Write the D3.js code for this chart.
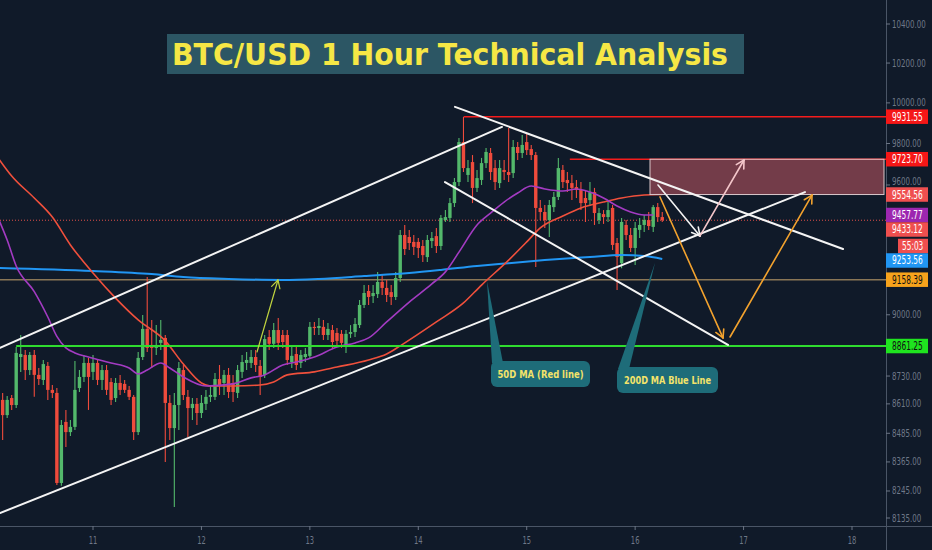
<!DOCTYPE html>
<html><head><meta charset="utf-8">
<script src="https://cdn.jsdelivr.net/npm/d3@7"></script>
<style>body{margin:0;background:#101a29;}svg{display:block}</style>
</head><body><svg id="c" width="932" height="550"></svg>
<script>
// ---------------- DATA ----------------
const startDay = 10, startHour = 4; // first hourly candle: day 10, 04:00
const opens  = [8627,8562,8635,8605,8813,8822,8756,8822,8735,8713,8774,8670,8657,8278,8533,8490,8512,8678,8726,8787,8748,8787,8713,8756,8704,8635,8700,8696,8670,8640,8490,8813,8937,8866,8853,8875,8897,8614,8507,8605,8756,8640,8592,8610,8571,8610,8640,8640,8717,8700,8735,8700,8657,8748,8787,8787,8813,8774,8735,8901,8871,8932,8910,8910,8791,8826,8787,8813,8818,8946,8941,8946,8910,8932,8919,8915,8866,8915,8923,8954,9044,9107,9084,9093,9148,9121,9102,9080,9166,9364,9355,9332,9332,9313,9262,9336,9359,9313,9434,9444,9514,9614,9807,9648,9710,9586,9624,9705,9754,9681,9609,9672,9662,9657,9783,9754,9807,9773,9744,9491,9472,9434,9495,9543,9672,9624,9609,9590,9576,9538,9528,9566,9434,9462,9448,9491,9327,9234,9411,9364,9304,9388,9411,9434,9402,9495,9448];
const highs  = [8657,8644,8648,8857,8910,8844,8835,8844,8765,8800,8791,8691,8678,8541,8584,8541,8796,8756,8822,8809,8822,8800,8778,8778,8722,8722,8735,8713,8687,8648,8835,8999,9171,8977,8954,8977,8910,8648,8657,8791,8778,8670,8635,8635,8648,8670,8691,8743,8778,8756,8765,8735,8778,8822,8835,8844,8844,8800,8910,8932,8963,8986,8932,8932,8866,8866,8844,8853,8968,8968,8986,8977,8963,8954,8941,8932,8932,8954,8986,9066,9134,9134,9134,9194,9180,9157,9134,9194,9388,9411,9388,9364,9350,9341,9364,9378,9397,9458,9481,9538,9633,9827,9931.55,9720,9744,9672,9730,9778,9778,9720,9720,9720,9876,9817,9807,9842,9851,9793,9759,9528,9505,9528,9566,9730,9696,9662,9648,9624,9614,9576,9614,9586,9491,9481,9528,9505,9350,9444,9434,9397,9425,9444,9458,9472,9505,9514,9472];
const lows   = [8457,8550,8584,8592,8748,8713,8735,8640,8691,8691,8627,8635,8270,8266,8427,8474,8499,8661,8704,8584,8713,8691,8670,8648,8605,8618,8648,8657,8627,8457,8478,8800,8835,8765,8822,8844,8365,8457,8180,8499,8627,8469,8541,8520,8550,8584,8618,8627,8648,8648,8635,8618,8635,8722,8756,8765,8748,8648,8722,8844,8853,8844,8853,8778,8765,8756,8765,8791,8809,8910,8910,8888,8888,8853,8862,8853,8831,8897,8901,8941,9030,9044,9053,9075,9089,9057,9044,9066,9148,9271,9295,9271,9258,9239,9239,9304,9281,9295,9425,9425,9495,9595,9662,9614,9514,9566,9600,9681,9624,9576,9586,9624,9614,9633,9720,9730,9744,9720,9216,9434,9397,9355,9472,9528,9586,9566,9528,9538,9481,9425,9500,9411,9416,9416,9425,9295,9112,9211,9341,9285,9225,9350,9378,9388,9378,9425,9425];
const closes = [8562,8627,8605,8831,8826,8756,8822,8735,8717,8782,8670,8657,8278,8520,8490,8512,8670,8726,8787,8726,8787,8713,8756,8670,8627,8700,8670,8670,8640,8490,8809,8937,8853,8853,8866,8888,8614,8507,8605,8765,8648,8592,8610,8571,8614,8640,8648,8717,8687,8735,8661,8661,8756,8791,8800,8813,8778,8726,8892,8871,8932,8875,8879,8800,8818,8778,8822,8826,8946,8941,8950,8910,8937,8879,8884,8875,8915,8923,8959,9044,9098,9080,9098,9148,9121,9089,9080,9166,9364,9299,9327,9309,9304,9271,9341,9350,9313,9444,9448,9514,9614,9807,9681,9681,9586,9633,9705,9759,9662,9614,9681,9662,9648,9783,9754,9793,9768,9744,9491,9472,9434,9505,9543,9681,9614,9609,9586,9576,9514,9514,9566,9467,9467,9448,9481,9318,9262,9425,9364,9304,9397,9411,9434,9406,9495,9448,9433.12];

// moving averages: [candle index, price]
const ma20  = [[-1,9444],[1,9341],[3,9221],[7,9104],[10,8990],[12,8904],[14,8853],[16,8831],[19,8813],[24,8787],[28,8765],[30,8739],[32,8756],[35,8787],[37,8765],[40,8726],[45,8687],[51,8696],[55,8722],[58,8735],[62,8778],[65,8791],[69,8813],[74,8857],[78,8875],[81,8897],[85,8968],[90,9057],[95,9139],[98,9194],[101,9285],[105,9411],[108,9467],[111,9519],[114,9562],[117,9595],[120,9581],[124,9571],[127,9581],[130,9566],[133,9538],[136,9500],[139,9472],[142,9458],[144,9457.77]];
const ma50  = [[-1,9730],[2,9643],[7,9538],[11,9448],[15,9318],[20,9189],[25,9075],[30,8977],[36,8884],[40,8782],[44,8700],[46,8687],[51,8687],[57,8691],[60,8704],[63,8735],[69,8748],[74,8769],[81,8800],[85,8826],[88,8862],[96,8968],[102,9053],[106,9134],[112,9248],[116,9332],[119,9397],[124,9453],[128,9491],[133,9519],[137,9538],[142,9552],[146,9554.56]];
const ma200 = [[-1,9212],[20,9198],[33,9184],[40,9171],[50,9162],[62,9157],[70,9162],[80,9175],[90,9189],[97,9203],[105,9221],[112,9234],[120,9248],[130,9262],[137,9271],[142,9267],[146,9253.56]];

const yTicks = [10400,10200,10000,9800,9600,9000,8730,8610,8485,8365,8245,8135];
const xTicks = [11,12,13,14,15,16,17,18];
const lastPrice = 9433.12, countdown = '55:03';
const supportLevel = 8861.25, midLevel = 9158.39;
const resistHigh = {from:14.4216, v:9931.55};
const resistLow  = {from:15.3977, v:9723.70};
const zone = {x0:16.137, x1:18.295, top:9723.70, bottom:9554.56};
const channelUpper = [[10.1423,8853],[14.772,9881]];
const channelLower = [[10.1423,8155],[17.566,9566]];
const descUpper = [[14.3385,9980],[17.9169,9299]];
const descLower = [[14.2464,9614],[16.8562,8866]];
const arrows = [
  {p:[[12.5125,8835],[12.706,9157]], c:'#bfd33f', w:1.2},
  {p:[[16.2109,9600],[16.598,9360]], c:'#f2f2f2', w:1.6},
  {p:[[16.598,9360],[17.0039,9720]], c:'#f3c6ca', w:1.6},
  {p:[[16.2292,9543],[16.8104,8897]], c:'#f2a22e', w:1.6},
  {p:[[16.8749,8901],[17.631,9552]], c:'#f2a22e', w:1.6}
];
const callouts = [
  {text:'50D MA (Red line)', tip:[14.6337,9152], box:[491,361,99,26], tw:86},
  {text:'200D MA Blue Line', tip:[16.1829,9235], box:[617,367,101,26], tw:87}
];
const tags = [
  {v:9931.55, bg:'#f51717', fg:'#fff'},
  {v:9723.70, bg:'#f51717', fg:'#fff'},
  {v:9554.56, bg:'#ef4f4f', fg:'#fff'},
  {v:9457.77, bg:'#9c27b0', fg:'#fff'},
  {v:9433.12, bg:'#ef4f4f', fg:'#fff'},
  {label:countdown, bg:'#ef4f4f', fg:'#fff', cd:true},
  {v:9253.56, bg:'#2196f3', fg:'#fff'},
  {v:9158.39, bg:'#f7a31c', fg:'#111'},
  {v:8861.25, bg:'#1fe41f', fg:'#111'}
];
const titleText = 'BTC/USD 1 Hour Technical Analysis';

// ---------------- CHART ----------------
const W = 932, H = 550, PR = 886, PB = 526;
const BG = '#101a29', UP = '#53b86b', DN = '#ef4b3c';
const AXF = "'DejaVu Sans Condensed','DejaVu Sans',sans-serif";
const x = d3.scaleLinear().domain([10.1423, 18.3135]).range([0, PR]);
const y = d3.scaleLog().domain([8135, 10400]).range([518, 24]);
const dayOf = i => startDay + (startHour + i) / 24;
const numW = (s, dw, pw) => s.split('').reduce((a, ch) => a + (ch === '.' || ch === ':' ? pw : dw), 0);

const svg = d3.select('#c');
svg.append('rect').attr('width', W).attr('height', H).attr('fill', BG);
svg.append('defs').append('clipPath').attr('id', 'plot')
  .append('rect').attr('x', 0).attr('y', 0).attr('width', PR).attr('height', PB);
const g = svg.append('g').attr('clip-path', 'url(#plot)');

// narrow text: horizontally squeezed to a target width via transform
function narrowText(parent, s, tx, ty, size, fill, target, anchor) {
  const gg = parent.append('g');
  const t = gg.append('text').attr('x', 0).attr('y', 0).attr('fill', fill)
    .attr('font-family', AXF).attr('font-size', size).text(s);
  const nat = t.node().getComputedTextLength() || target;
  const sx = target / nat;
  const left = anchor === 'middle' ? tx - target / 2 : tx;
  gg.attr('transform', `translate(${left},${ty}) scale(${sx},1)`);
  return gg;
}

// level lines
g.append('line').attr('x1', 0).attr('x2', PR).attr('y1', y(midLevel)).attr('y2', y(midLevel))
  .attr('stroke', '#8a7656').attr('stroke-width', 1.6);
g.append('line').attr('x1', 0).attr('x2', PR).attr('y1', y(lastPrice)).attr('y2', y(lastPrice))
  .attr('stroke', '#e0504a').attr('stroke-width', 1).attr('stroke-dasharray', '1,2');

// candles
const candles = opens.map((o, i) => ({t: dayOf(i), o, h: highs[i], l: lows[i], c: closes[i]}));
const bw = 3.4;
g.append('g').selectAll('line').data(candles).join('line')
  .attr('x1', d => x(d.t)).attr('x2', d => x(d.t))
  .attr('y1', d => y(d.h)).attr('y2', d => y(d.l))
  .attr('stroke', d => d.c >= d.o ? UP : DN).attr('stroke-width', 1.1);
g.append('g').selectAll('rect').data(candles).join('rect')
  .attr('x', d => x(d.t) - bw / 2).attr('width', bw)
  .attr('y', d => y(Math.max(d.o, d.c)))
  .attr('height', d => Math.max(1.2, Math.abs(y(d.o) - y(d.c))))
  .attr('fill', d => d.c >= d.o ? UP : DN);

// moving averages
const maLine = d3.line().x(d => x(dayOf(d[0]))).y(d => y(d[1])).curve(d3.curveMonotoneX);
g.append('path').attr('d', maLine(ma200)).attr('fill', 'none').attr('stroke', '#2196f3').attr('stroke-width', 2);
g.append('path').attr('d', maLine(ma50)).attr('fill', 'none').attr('stroke', '#f0503c').attr('stroke-width', 1.6);
g.append('path').attr('d', maLine(ma20)).attr('fill', 'none').attr('stroke', '#a33bc2').attr('stroke-width', 1.6);

// support line
g.append('line').attr('x1', x(dayOf(3))).attr('x2', PR).attr('y1', y(supportLevel)).attr('y2', y(supportLevel))
  .attr('stroke', '#2fdc2f').attr('stroke-width', 2);

// resistance lines
[resistHigh, resistLow].forEach(r => {
  g.append('line').attr('x1', x(r.from)).attr('x2', PR).attr('y1', y(r.v)).attr('y2', y(r.v))
    .attr('stroke', '#f51c1c').attr('stroke-width', 1.6);
});

// zone
g.append('rect').attr('x', x(zone.x0)).attr('y', y(zone.top))
  .attr('width', x(zone.x1) - x(zone.x0)).attr('height', y(zone.bottom) - y(zone.top))
  .attr('fill', 'rgba(196,90,100,0.55)').attr('stroke', '#d9c6ca').attr('stroke-width', 1);

// trend lines
const seg = (p, c, w) => g.append('line')
  .attr('x1', x(p[0][0])).attr('y1', y(p[0][1])).attr('x2', x(p[1][0])).attr('y2', y(p[1][1]))
  .attr('stroke', c).attr('stroke-width', w).attr('stroke-linecap', 'round');
[channelUpper, channelLower, descUpper, descLower].forEach(p => seg(p, '#f4f4f4', 2));

// arrows
arrows.forEach(a => {
  seg(a.p, a.c, a.w);
  const x1 = x(a.p[0][0]), y1 = y(a.p[0][1]), x2 = x(a.p[1][0]), y2 = y(a.p[1][1]);
  const ang = Math.atan2(y2 - y1, x2 - x1), L = 9, sp = 0.5;
  [ang + Math.PI - sp, ang + Math.PI + sp].forEach(b => {
    g.append('line').attr('x1', x2).attr('y1', y2)
      .attr('x2', x2 + L * Math.cos(b)).attr('y2', y2 + L * Math.sin(b))
      .attr('stroke', a.c).attr('stroke-width', a.w).attr('stroke-linecap', 'round');
  });
});

// callouts
callouts.forEach(c => {
  const [bx, by, bwid, bh] = c.box;
  const tx = x(c.tip[0]), ty = y(c.tip[1]);
  g.append('path').attr('d', `M${tx},${ty} L${bx + 1},${by + 2} L${bx + 12},${by + 2} Z`)
    .attr('fill', '#1e6c79');
  g.append('rect').attr('x', bx).attr('y', by).attr('width', bwid).attr('height', bh)
    .attr('rx', 6).attr('fill', '#1e6c79');
  g.append('text').attr('x', bx + bwid / 2).attr('y', by + bh / 2 + 4)
    .attr('text-anchor', 'middle').attr('fill', '#f3e36a')
    .attr('font-family', "'DejaVu Sans',sans-serif").attr('font-weight', 'bold').attr('font-size', 10.5)
    .attr('textLength', c.tw).attr('lengthAdjust', 'spacingAndGlyphs').text(c.text);
});

// title
svg.append('rect').attr('x', 167).attr('y', 34).attr('width', 577).attr('height', 40).attr('fill', '#2c5664');
svg.append('text').attr('x', 172).attr('y', 65).attr('fill', '#f6e745')
  .attr('font-family', "'DejaVu Sans',sans-serif").attr('font-weight', 'bold').attr('font-size', 30)
  .attr('textLength', 556).attr('lengthAdjust', 'spacingAndGlyphs').text(titleText);

// axes lines
svg.append('line').attr('x1', PR + 0.5).attr('x2', PR + 0.5).attr('y1', 0).attr('y2', H).attr('stroke', '#4a5566');
svg.append('line').attr('x1', 0).attr('x2', W).attr('y1', PB + 0.5).attr('y2', PB + 0.5).attr('stroke', '#4a5566');

// price tags layout with overlap avoidance
const TH = 14.5;
let prev = null;
tags.forEach(t => {
  let cy = t.cd ? prev.cy + TH + 2 : y(t.v);
  if (prev && !t.cd && cy < prev.cy + TH) cy = prev.cy + TH;
  t.cy = cy; prev = t;
});

// y axis (labels nudged clear of tags)
const ya = svg.append('g');
yTicks.forEach(v => {
  const s = d3.format('.2f')(v);
  let base = y(v) + 3.5;
  tags.forEach(t => {
    const top = t.cy - TH / 2;
    if (base + 2.5 > top && base - 8 < t.cy + TH / 2 && y(v) < t.cy) base = top - 2.6;
  });
  ya.append('line').attr('x1', PR).attr('x2', PR + 4).attr('y1', y(v)).attr('y2', y(v)).attr('stroke', '#6b7585');
  narrowText(ya, s, 892, base, 10, '#6f7888', numW(s, 4.5, 2.2), 'start');
});
// x axis
xTicks.forEach(t => {
  svg.append('line').attr('x1', x(t)).attr('x2', x(t)).attr('y1', PB).attr('y2', PB + 4).attr('stroke', '#6b7585');
  narrowText(svg, String(t), x(t), 544, 10, '#6f7888', numW(String(t), 4.3, 2), 'middle');
});

tags.forEach(t => {
  const x0 = t.cd ? 898 : PR;
  const s = t.cd ? t.label : d3.format('.2f')(t.v);
  svg.append('rect').attr('x', x0).attr('y', t.cy - TH / 2).attr('width', 928 - x0).attr('height', TH).attr('fill', t.bg);
  narrowText(svg, s, t.cd ? 902 : 892, t.cy + 4, 11.5, t.fg, numW(s, 4.75, 2.3), 'start');
});
</script></body></html>
